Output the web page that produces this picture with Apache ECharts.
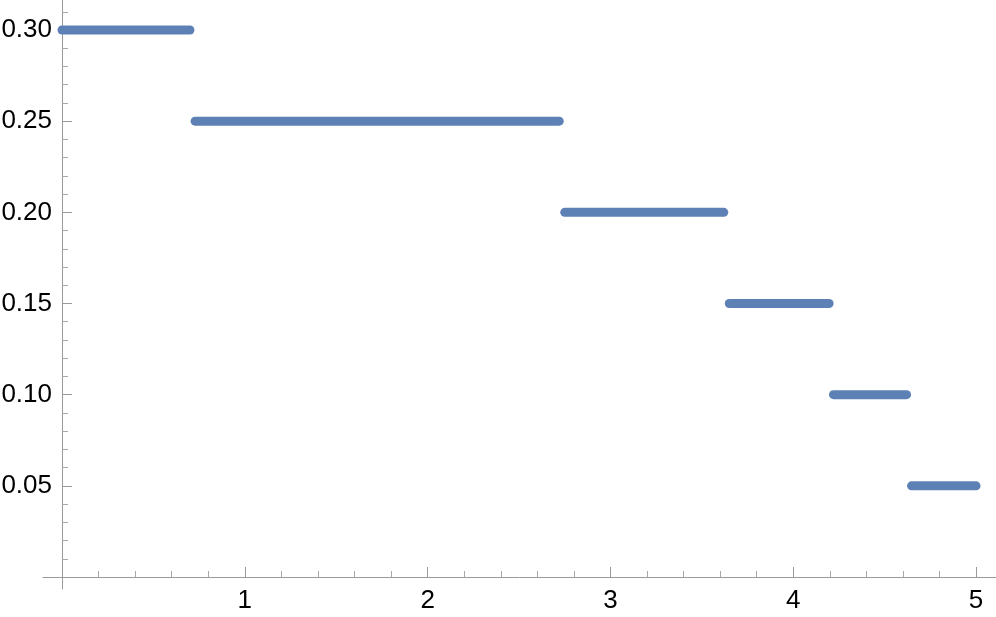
<!DOCTYPE html>
<html>
<head>
<meta charset="utf-8">
<script src="https://cdn.jsdelivr.net/npm/echarts@6/dist/echarts.min.js"></script>
<style>
html,body{margin:0;padding:0;background:#fff;}
#chart{width:996px;height:617px;}
</style>
</head>
<body>
<div id="chart"></div>
<script>
// Step segments (x start, x end, level)
const segStart = [0, 0.728, 2.75, 3.65, 4.22, 4.647];
const segEnd   = [0.70, 2.72, 3.62, 4.196, 4.62, 5.0];
const levels   = [0.30, 0.25, 0.20, 0.15, 0.10, 0.05];

const xMajorTicks = [1, 2, 3, 4, 5];
const xMinorTicks = [0.2, 0.4, 0.6, 0.8, 1.2, 1.4, 1.6, 1.8, 2.2, 2.4, 2.6, 2.8, 3.2, 3.4, 3.6, 3.8, 4.2, 4.4, 4.6, 4.8];
const yMajorTicks = [0.05, 0.10, 0.15, 0.20, 0.25, 0.30];
const yMinorTicks = [0.01, 0.02, 0.03, 0.04, 0.06, 0.07, 0.08, 0.09, 0.11, 0.12, 0.13, 0.14, 0.16, 0.17, 0.18, 0.19, 0.21, 0.22, 0.23, 0.24, 0.26, 0.27, 0.28, 0.29, 0.31];

const X_MIN = -0.1039, X_MAX = 5.109;
const Y_MIN = -0.00658, Y_MAX = 0.31645;

const chart = echarts.init(document.getElementById('chart'), null, {renderer: 'canvas'});

const axisColor = '#9a9a9a';
const font = 'Liberation Sans, Arial, sans-serif';

const series = levels.map((lv, i) => ({
  type: 'line',
  xAxisIndex: 0,
  yAxisIndex: 0,
  data: [[segStart[i], lv], [segEnd[i], lv]],
  showSymbol: false,
  symbol: 'none',
  lineStyle: {color: '#5E81B5', width: 9, cap: 'round'},
  silent: true,
  animation: false
}));

chart.setOption({
  animation: false,
  backgroundColor: '#ffffff',
  grid: {left: 43, right: 0, top: 0, bottom: 28, containLabel: false, outerBoundsMode: 'none'},
  xAxis: [
    {
      type: 'value', min: X_MIN, max: X_MAX, position: 'bottom',
      axisLine: {show: true, onZero: true, lineStyle: {color: axisColor, width: 1}},
      axisTick: {show: true, inside: true, length: 10, customValues: xMajorTicks, lineStyle: {color: axisColor}},
      axisLabel: {show: true, customValues: xMajorTicks, margin: -1, color: '#000', fontSize: 26, fontFamily: font, formatter: v => String(Math.round(v))},
      splitLine: {show: false}
    },
    {
      type: 'value', min: X_MIN, max: X_MAX, position: 'bottom',
      axisLine: {show: false, onZero: true},
      axisTick: {show: true, inside: true, length: 6, customValues: xMinorTicks, lineStyle: {color: '#a8a8a8'}},
      axisLabel: {show: false},
      splitLine: {show: false}
    }
  ],
  yAxis: [
    {
      type: 'value', min: Y_MIN, max: Y_MAX, position: 'left',
      axisLine: {show: true, onZero: true, lineStyle: {color: axisColor, width: 1}},
      axisTick: {show: true, inside: true, length: 10, customValues: yMajorTicks, lineStyle: {color: axisColor}},
      axisLabel: {show: true, customValues: yMajorTicks, margin: -9, color: '#000', fontSize: 26, fontFamily: font, formatter: v => v.toFixed(2)},
      splitLine: {show: false}
    },
    {
      type: 'value', min: Y_MIN, max: Y_MAX, position: 'left',
      axisLine: {show: false, onZero: true},
      axisTick: {show: true, inside: true, length: 6, customValues: yMinorTicks, lineStyle: {color: '#a8a8a8'}},
      axisLabel: {show: false},
      splitLine: {show: false}
    }
  ],
  series: series
});
</script>
</body>
</html>
